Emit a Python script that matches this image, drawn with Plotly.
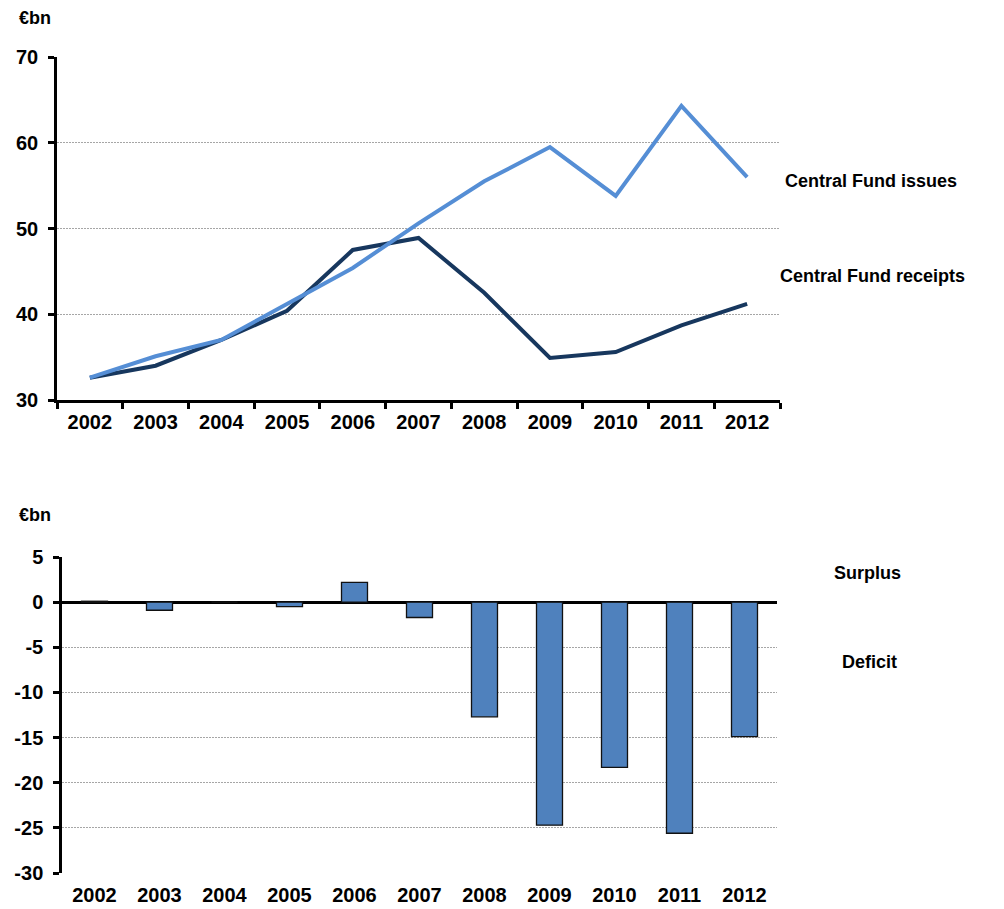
import plotly.graph_objects as go
from plotly.subplots import make_subplots

years = ["2002", "2003", "2004", "2005", "2006", "2007",
         "2008", "2009", "2010", "2011", "2012"]
fund_issues = [32.6, 35.1, 37.0, 41.2, 45.4, 50.6, 55.5, 59.5, 53.8, 64.3, 56.0]
fund_receipts = [32.6, 34.0, 37.0, 40.4, 47.5, 48.9, 42.5, 34.9, 35.6, 38.7, 41.2]
balance = [0.1, -0.9, 0.0, -0.5, 2.2, -1.7, -12.7, -24.7, -18.3, -25.6, -14.9]
balance_ticks = [5, 0, -5, -10, -15, -20, -25, -30]

W, H = 1004, 909
FONT = "Liberation Sans, Arial, sans-serif"


def px(x):
    return x / W


def py(y):
    return 1 - y / H


fig = make_subplots(rows=2, cols=1)

fig.add_trace(go.Scatter(x=years, y=fund_receipts, mode="lines",
                         line=dict(color="#17375E", width=4),
                         name="Central Fund receipts"), row=1, col=1)
fig.add_trace(go.Scatter(x=years, y=fund_issues, mode="lines",
                         line=dict(color="#558ED5", width=4),
                         name="Central Fund issues"), row=1, col=1)
fig.add_trace(go.Bar(x=years, y=balance,
                     marker=dict(color="#4F81BD",
                                 line=dict(color="#111111", width=1.3)),
                     name="Balance"), row=2, col=1)

tickfont = dict(family=FONT, size=20, color="black", weight="bold")
grid = dict(showgrid=True, gridcolor="#a6a6a6", griddash="2px,1px",
            gridwidth=1)

fig.update_layout(
    width=W, height=H,
    margin=dict(l=0, r=0, t=0, b=0),
    paper_bgcolor="white", plot_bgcolor="white",
    showlegend=False, bargap=0.6,
    font=dict(family=FONT, color="black"),
    xaxis=dict(domain=[px(57), px(780)], type="category", automargin=False,
               showline=True, linecolor="black", linewidth=2.5,
               ticks="outside", tickson="boundaries", ticklen=6,
               tickwidth=2.5, tickcolor="black", showgrid=False,
               tickfont=tickfont, range=[-0.5, 10.5],
               ticklabelstandoff=2),
    yaxis=dict(domain=[py(400), py(57)], range=[30, 70], dtick=10,
               automargin=False,
               showline=True, linecolor="black", linewidth=2.5,
               ticks="outside", ticklen=6, tickwidth=2.5, tickcolor="black",
               zeroline=False, tickfont=tickfont, ticklabelstandoff=6,
               **grid),
    xaxis2=dict(domain=[px(62), px(777)], type="category", automargin=False,
                showline=False, ticks="", showgrid=False,
                tickfont=tickfont, range=[-0.5, 10.5],
                ticklabelstandoff=8),
    yaxis2=dict(domain=[py(873), py(557)], range=[-30, 5],
                tickmode="array", tickvals=balance_ticks,
                ticktext=[str(v) for v in balance_ticks],
                automargin=False,
                showline=True, linecolor="black", linewidth=2.5,
                ticks="outside", ticklen=6, tickwidth=2.5, tickcolor="black",
                zeroline=True, zerolinecolor="black",
                zerolinewidth=2.5, tickfont=tickfont, ticklabelstandoff=6,
                **grid),
)

labels = [
    ("€bn", 17, 18),
    ("€bn", 17, 515),
    ("Central Fund issues", 783, 181),
    ("Central Fund receipts", 778, 276),
    ("Surplus", 832, 573),
    ("Deficit", 840, 662),
]
for text, x, y in labels:
    fig.add_annotation(text=f"<b>{text}</b>", x=px(x), y=py(y),
                       xref="paper", yref="paper",
                       xanchor="left", yanchor="middle", showarrow=False,
                       font=dict(family=FONT, size=18, color="black"))

fig.write_html("out.html")
